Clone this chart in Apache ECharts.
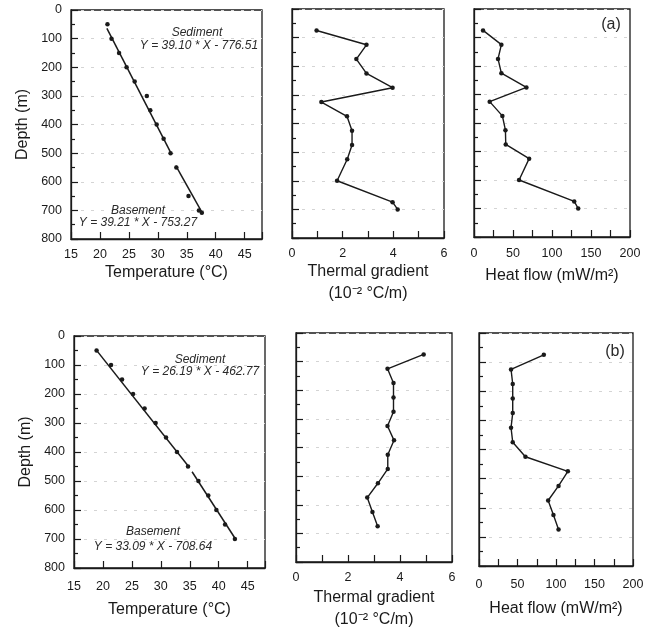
<!DOCTYPE html>
<html>
<head>
<meta charset="utf-8">
<script src="https://cdn.jsdelivr.net/npm/echarts@6/dist/echarts.min.js"></script>
<style>
html,body{margin:0;padding:0;background:#fff;}
#chart{width:660px;height:632px;}
</style>
</head>
<body>
<div id="chart"></div>
<script>
// ---------- DATA ----------
// Row (a)
const tempDepthA = [50, 100, 150, 200, 250, 300, 350, 400, 450, 500, 550, 650, 700, 708];
const tempA      = [21.3, 22.0, 23.3, 24.6, 26.0, 28.1, 28.7, 29.8, 31.0, 32.2, 33.2, 35.3, 37.1, 37.6];
const sedFitA    = [[21.2, 64], [32.3, 501]];
const baseFitA   = [[33.1, 544], [37.8, 713]];

const gradDepthA = [75, 125, 175, 225, 275, 325, 375, 425, 475, 525, 600, 675, 700];
const gradA      = [0.97, 2.94, 2.54, 2.94, 3.97, 1.16, 2.17, 2.37, 2.37, 2.18, 1.78, 3.97, 4.17];

const hfDepthA   = [75, 125, 175, 225, 275, 325, 375, 425, 475, 525, 600, 675, 700];
const hfA        = [11.6, 35.1, 30.8, 35.1, 67.2, 20.1, 36.4, 40.3, 40.7, 70.7, 57.8, 128.5, 133.6];

// Row (b)
const tempDepthB = [50, 100, 150, 200, 250, 300, 350, 400, 450, 500, 550, 600, 650, 700];
const tempB      = [18.9, 21.4, 23.3, 25.2, 27.2, 29.1, 30.9, 32.8, 34.7, 36.5, 38.2, 39.6, 41.1, 42.8];
const sedFitB    = [[18.8, 47], [34.8, 450]];
const baseFitB   = [[35.4, 468], [42.9, 700]];

const gradDepthB = [75, 125, 175, 225, 275, 325, 375, 425, 475, 525, 575, 625, 675];
const gradB      = [4.91, 3.52, 3.75, 3.75, 3.75, 3.52, 3.77, 3.53, 3.53, 3.15, 2.74, 2.94, 3.14];

const hfDepthB   = [75, 125, 175, 225, 275, 325, 375, 425, 475, 525, 575, 625, 675];
const hfB        = [84.2, 41.6, 43.8, 43.8, 43.8, 41.6, 43.8, 60.3, 115.4, 103.3, 89.8, 96.7, 103.3];

// Text
const depthName = 'Depth (m)';
const tempName  = 'Temperature (°C)';
const gradName  = 'Thermal gradient\n(10⁻² °C/m)';
const hfName    = 'Heat flow (mW/m²)';
const eqSedA  = 'Y = 39.10 * X - 776.51';
const eqBaseA = 'Y = 39.21 * X - 753.27';
const eqSedB  = 'Y = 26.19 * X - 462.77';
const eqBaseB = 'Y = 33.09 * X - 708.64';

// ---------- BUILD ----------
const FONT = '"Liberation Sans", Arial, Helvetica, sans-serif';
const INK = '#1a1a1a';

const grids = [
  {left: 71,  top: 10,  width: 191, height: 229},
  {left: 292, top: 9,   width: 152, height: 229},
  {left: 474, top: 9,   width: 156, height: 228},
  {left: 74,  top: 336, width: 191, height: 232},
  {left: 296, top: 333, width: 156, height: 234},
  {left: 479, top: 333, width: 154, height: 233}
].map(g => Object.assign({show: true, borderColor: INK, borderWidth: 1.3, backgroundColor: 'transparent'}, g));

function xAx(i, min, max, interval, labelStep, name, gap, margin) {
  return {
    type: 'value', gridIndex: i, min: min, max: max, interval: interval, position: 'bottom',
    name: name, nameLocation: 'middle', nameGap: gap,
    nameTextStyle: {fontFamily: FONT, fontSize: 16, color: INK, lineHeight: 22},
    axisLine: {show: true, onZero: false, lineStyle: {color: INK, width: 1.3}},
    axisTick: {show: true, inside: true, length: 7, lineStyle: {color: INK, width: 1.2}},
    axisLabel: {fontFamily: FONT, fontSize: 12.5, color: INK, margin: margin,
      formatter: v => (Math.abs(v / labelStep - Math.round(v / labelStep)) < 1e-6 ? String(v) : '')},
    splitLine: {show: false}
  };
}
function yAx(i, showLabels, gap) {
  return {
    type: 'value', gridIndex: i, min: 0, max: 800, interval: 100, inverse: true, position: 'left',
    name: showLabels ? depthName : '', nameLocation: 'middle', nameGap: gap,
    nameTextStyle: {fontFamily: FONT, fontSize: 16, color: INK},
    axisLine: {show: true, onZero: false, lineStyle: {color: INK, width: 1.3}},
    axisTick: {show: true, inside: true, length: 7, lineStyle: {color: INK, width: 1.2}},
    minorTick: {show: true, splitNumber: 2, length: 4, lineStyle: {color: INK, width: 1.2}},
    axisLabel: {show: showLabels, fontFamily: FONT, fontSize: 12.5, color: INK, margin: 9},
    splitLine: {show: true, lineStyle: {color: '#d4d4d4', width: 1, type: [3, 7]}}
  };
}

const xAxes = [
  xAx(0, 15, 48, 5, 5, tempName, 17, 9),
  xAx(1, 0, 6, 1, 2, gradName, 21, 9),
  xAx(2, 0, 200, 25, 50, hfName, 28, 10),
  xAx(3, 15, 48, 5, 5, tempName, 31, 12),
  xAx(4, 0, 6, 1, 2, gradName, 25, 9),
  xAx(5, 0, 200, 25, 50, hfName, 32, 12)
];
const yAxes = [yAx(0, true, 40), yAx(1, false, 0), yAx(2, false, 0),
               yAx(3, true, 40), yAx(4, false, 0), yAx(5, false, 0)];

function pts(xs, ds) { return xs.map((v, k) => [v, ds[k]]); }

function dotLine(i, xs, ds, withLine) {
  return {
    type: 'line', xAxisIndex: i, yAxisIndex: i, data: pts(xs, ds),
    symbol: 'circle', symbolSize: 4.5, showSymbol: true,
    itemStyle: {color: INK},
    lineStyle: {color: INK, width: withLine ? 1.4 : 0, opacity: withLine ? 1 : 0},
    silent: true, animation: false, z: 3
  };
}
function fit(i, seg) {
  return {
    type: 'line', xAxisIndex: i, yAxisIndex: i, data: seg,
    symbol: 'none', lineStyle: {color: INK, width: 1.5}, silent: true, animation: false, z: 2
  };
}

const series = [
  dotLine(0, tempA, tempDepthA, false), fit(0, sedFitA), fit(0, baseFitA),
  dotLine(1, gradA, gradDepthA, true),
  dotLine(2, hfA, hfDepthA, true),
  dotLine(3, tempB, tempDepthB, false), fit(3, sedFitB), fit(3, baseFitB),
  dotLine(4, gradB, gradDepthB, true),
  dotLine(5, hfB, hfDepthB, true)
];

function txt(x, y, s, size, italic) {
  return {type: 'text', x: x, y: y, z: 10,
    style: {text: s, fontFamily: FONT, fontSize: size, fontStyle: italic ? 'italic' : 'normal',
      fill: '#2a2a2a', align: 'center', verticalAlign: 'middle'}};
}
const graphics = [
  txt(197, 33, 'Sediment', 12, true),
  txt(199, 46, eqSedA, 12, true),
  txt(138, 211, 'Basement', 12, true),
  txt(138, 223, eqBaseA, 12, true),
  txt(200, 360, 'Sediment', 12, true),
  txt(200, 372, eqSedB, 12, true),
  txt(153, 532, 'Basement', 12, true),
  txt(153, 547, eqBaseB, 12, true),
  txt(611, 25, '(a)', 16, false),
  txt(615, 352, '(b)', 16, false)
];

const chart = echarts.init(document.getElementById('chart'), null, {renderer: 'canvas'});
chart.setOption({
  backgroundColor: '#fff',
  animation: false,
  grid: grids,
  xAxis: xAxes,
  yAxis: yAxes,
  series: series,
  graphic: graphics
});
</script>
</body>
</html>
